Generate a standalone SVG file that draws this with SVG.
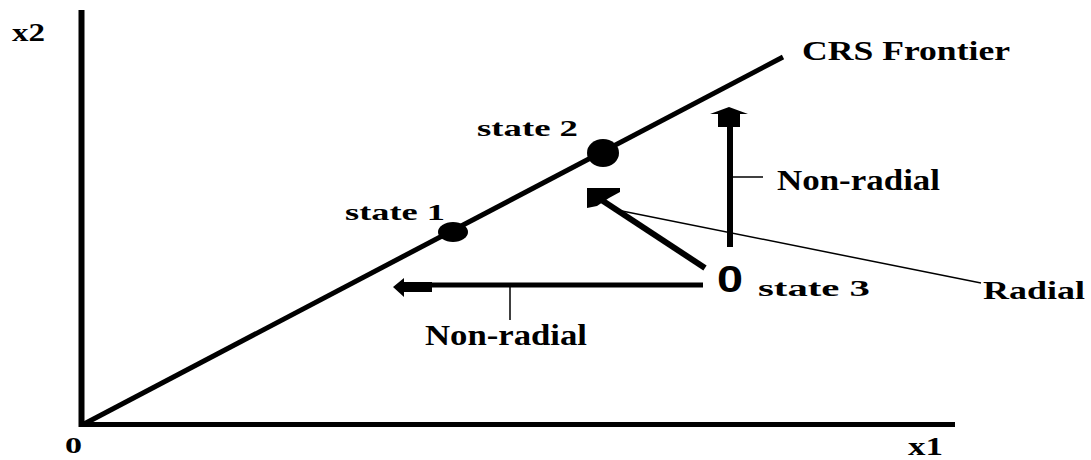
<svg xmlns="http://www.w3.org/2000/svg" width="1091" height="460" viewBox="0 0 1091 460">
<style>
.lbl{font-family:"Liberation Serif","Times New Roman",serif;font-weight:bold;fill:#000}
.thick{stroke:#000;fill:none;stroke-linecap:butt}
.thin{stroke:#000;stroke-width:1.5;fill:none}
.head{fill:#000;stroke:none}
</style>
<rect width="1091" height="460" fill="#fff"/>
<g id="axes">
<line class="thick" x1="81.5" y1="10" x2="81.5" y2="427" stroke-width="6"/>
<line class="thick" x1="79" y1="424.5" x2="955" y2="424.5" stroke-width="5"/>
<text class="lbl" x="12" y="41" font-size="25" textLength="33" lengthAdjust="spacingAndGlyphs">x2</text>
<text class="lbl" x="65" y="453" font-size="23" textLength="17" lengthAdjust="spacingAndGlyphs">0</text>
<text class="lbl" x="908" y="455" font-size="25" textLength="35" lengthAdjust="spacingAndGlyphs">x1</text>
</g>
<g id="frontier">
<line class="thick" x1="84" y1="424" x2="783" y2="57" stroke-width="5"/>
<text class="lbl" x="802" y="60" font-size="27" textLength="208" lengthAdjust="spacingAndGlyphs">CRS Frontier</text>
</g>
<g id="state1">
<ellipse cx="453" cy="232" rx="15" ry="10" fill="#000"/>
<text class="lbl" x="345" y="220" font-size="24" textLength="100" lengthAdjust="spacingAndGlyphs">state 1</text>
</g>
<g id="state2">
<ellipse cx="603" cy="153" rx="16" ry="14" fill="#000"/>
<text class="lbl" x="477" y="136" font-size="23" textLength="101" lengthAdjust="spacingAndGlyphs">state 2</text>
</g>
<g id="state3">
<text transform="translate(717,292) scale(1.3,1)" x="0" y="0" font-family="'Liberation Sans',Arial,sans-serif" font-weight="bold" font-size="36" fill="#000">0</text>
<text class="lbl" x="758" y="296" font-size="24" textLength="112" lengthAdjust="spacingAndGlyphs">state 3</text>
</g>
<g id="connectors">
<line class="thick" x1="430" y1="285" x2="703" y2="285" stroke-width="5"/>
<polygon class="head" points="393,287 404,278 404,282 432,282 432,292 404,292 404,297"/>
<line class="thin" x1="510" y1="285" x2="510" y2="320" stroke-width="2"/>
<line class="thick" x1="730" y1="247" x2="730" y2="125" stroke-width="6"/>
<polygon class="head" points="729,107 748,114 740,114 740,127 718,127 718,114 710,114"/>
<line class="thin" x1="733" y1="177" x2="763" y2="177" stroke-width="2"/>
<line class="thick" x1="705" y1="268" x2="600" y2="199" stroke-width="6"/>
<polygon class="head" points="587,188 620,188 620,192 609,198 597,206 587,208"/>
<line class="thin" x1="622" y1="211" x2="981" y2="283"/>
</g>
<g id="labels">
<text class="lbl" x="777" y="190" font-size="29" textLength="163" lengthAdjust="spacingAndGlyphs">Non-radial</text>
<text class="lbl" x="425" y="345" font-size="29" textLength="162" lengthAdjust="spacingAndGlyphs">Non-radial</text>
<text class="lbl" x="983" y="299" font-size="26" textLength="102" lengthAdjust="spacingAndGlyphs">Radial</text>
</g>
</svg>
